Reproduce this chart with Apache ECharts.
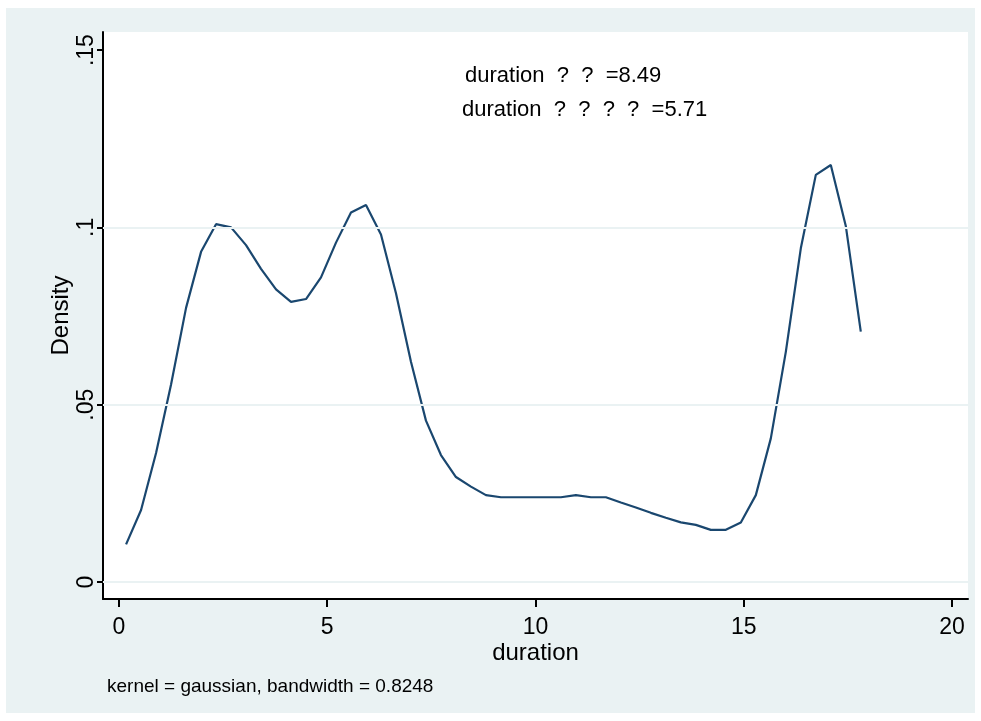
<!DOCTYPE html>
<html>
<head>
<meta charset="utf-8">
<script src="https://cdn.jsdelivr.net/npm/echarts@6/dist/echarts.min.js"></script>
<style>
  html, body { margin: 0; padding: 0; background: #fff; }
  #chart { width: 981px; height: 721px; }
</style>
</head>
<body>
<div id="chart"></div>
<script>
// kernel density estimate
const durationX = [0.17, 0.53, 0.89, 1.25, 1.61, 1.97, 2.33, 2.69, 3.05, 3.41,
    3.77, 4.13, 4.49, 4.85, 5.21, 5.57, 5.93, 6.29, 6.65, 7.01,
    7.37, 7.73, 8.09, 8.45, 8.81, 9.17, 9.53, 9.89, 10.25, 10.61,
    10.97, 11.33, 11.69, 12.05, 12.41, 12.77, 13.13, 13.49, 13.85, 14.21,
    14.57, 14.93, 15.29, 15.65, 16.01, 16.37, 16.73, 17.09, 17.45, 17.81];
const densityY = [0.0106, 0.0203, 0.0364, 0.0557, 0.0773, 0.0931, 0.1009, 0.1000, 0.0950, 0.0883,
    0.0825, 0.0790, 0.0798, 0.0859, 0.0957, 0.1042, 0.1063, 0.0980, 0.0814, 0.0621,
    0.0455, 0.0358, 0.0296, 0.0269, 0.0245, 0.0239, 0.0239, 0.0239, 0.0239, 0.0239,
    0.0245, 0.0239, 0.0239, 0.0224, 0.0210, 0.0195, 0.0181, 0.0168, 0.0161, 0.0147,
    0.0147, 0.0168, 0.0245, 0.0405, 0.0649, 0.0941, 0.1148, 0.1176, 0.1004, 0.0706];

const xTicks = [0, 5, 10, 15, 20];
const yTicks = [0, 0.05, 0.1, 0.15];
const yGrid = [0, 0.05, 0.1];
const yTickLabels = ['0', '.05', '.1', '.15'];

const noteLines = ['duration  ?  ?  =8.49', 'duration  ?  ?  ?  ?  =5.71'];
const footNote = 'kernel = gaussian, bandwidth = 0.8248';

const FONT = '"Liberation Sans", Arial, sans-serif';

var myChart = echarts.init(document.getElementById('chart'));

var option = {
    backgroundColor: '#ffffff',
    animation: false,
    grid: {
        left: 103,
        right: 13,
        top: 32,
        bottom: 122,
        show: true,
        backgroundColor: '#ffffff',
        borderWidth: 0
    },
    graphic: [
        {
            type: 'rect',
            z: -1,
            shape: { x: 6, y: 8, width: 969, height: 705 },
            style: { fill: '#EAF2F3' }
        },
        {
            type: 'text',
            left: 465, top: 65,
            style: { text: noteLines[0], font: '22px ' + FONT, fill: '#000' }
        },
        {
            type: 'text',
            left: 462, top: 99,
            style: { text: noteLines[1], font: '22px ' + FONT, fill: '#000' }
        },
        {
            type: 'text',
            left: 107, top: 677,
            style: { text: footNote, font: '19px ' + FONT, fill: '#000' }
        }
    ],
    xAxis: {
        type: 'value',
        min: -0.384,
        max: 20.384,
        name: 'duration',
        nameLocation: 'middle',
        nameGap: 42,
        nameMoveOverlap: false,
        nameTextStyle: { fontSize: 24, color: '#000', fontFamily: FONT },
        axisLine: { show: true, onZero: false, lineStyle: { color: '#000', width: 2 } },
        axisTick: { show: true, length: 8, customValues: xTicks, lineStyle: { color: '#000', width: 2 } },
        axisLabel: {
            customValues: xTicks,
            fontSize: 23,
            color: '#000',
            fontFamily: FONT,
            margin: 17
        },
        splitLine: { show: false }
    },
    yAxis: {
        type: 'value',
        min: -0.0048,
        max: 0.1551,
        name: 'Density',
        nameLocation: 'middle',
        nameGap: 30,
        nameMoveOverlap: false,
        nameTextStyle: { fontSize: 24, color: '#000', fontFamily: FONT },
        axisLine: { show: true, onZero: false, lineStyle: { color: '#000', width: 2 } },
        axisTick: { show: true, length: 6, customValues: yTicks, lineStyle: { color: '#000', width: 2 } },
        axisLabel: {
            customValues: yTicks,
            rotate: 90,
            fontSize: 23,
            color: '#000',
            fontFamily: FONT,
            margin: 5,
            formatter: (value) => {
                let i = yTicks.findIndex(t => Math.abs(t - value) < 1e-9);
                return i >= 0 ? yTickLabels[i] : '';
            }
        },
        splitLine: { show: false }
    },
    series: [
        {
            // grid lines only
            type: 'line',
            z: 1,
            data: [],
            markLine: {
                silent: true,
                symbol: 'none',
                label: { show: false },
                lineStyle: { color: '#EAF2F3', width: 2, type: 'solid' },
                data: yGrid.map(v => ({ yAxis: v }))
            }
        },
        {
            name: 'Density',
            type: 'line',
            z: 2,
            data: durationX.map((x, i) => [x, densityY[i]]),
            showSymbol: false,
            lineStyle: { color: '#1A476F', width: 2.2 }
        }
    ]
};

option && myChart.setOption(option);
</script>
</body>
</html>
